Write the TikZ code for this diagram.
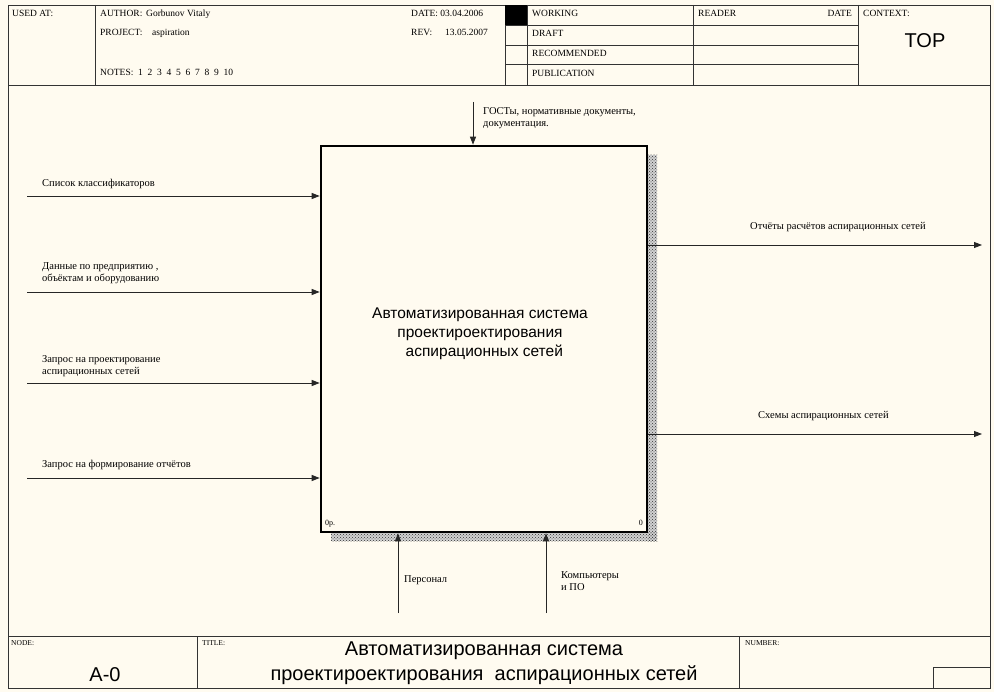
\documentclass[tikz,border=0pt]{standalone}
\usepackage{fontspec}
\setmainfont{Liberation Serif}
\newfontfamily\arialf{Liberation Sans}
\usetikzlibrary{arrows.meta,patterns}
\definecolor{bg}{RGB}{255,251,240}
\begin{document}
\begin{tikzpicture}[x=1pt,y=-1pt,
  lbl/.style={font=\fontsize{10.5}{12}\selectfont, anchor=west, inner sep=0},
  hdr/.style={font=\fontsize{9.5}{11}\selectfont, anchor=west, inner sep=0, text height=6.5pt, text depth=2pt},
  tiny/.style={font=\fontsize{7.5}{9}\selectfont, anchor=west, inner sep=0},
  big/.style={font=\arialf\fontsize{20}{25}\selectfont, inner sep=0, align=center},
  arr/.style={draw=black!85, line width=0.9pt, -{Triangle[length=8pt,width=6pt]}},
  frm/.style={draw=black!80, line width=0.8pt},
  shade/.style={pattern=crosshatch dots, pattern color=black!80}]
\useasboundingbox[fill=bg] (0,0) rectangle (994,692);
% outer frame
\draw[frm] (8,5) rectangle (990,688);
% header
\draw[frm] (8,85) -- (990,85);
\draw[frm] (95,5) -- (95,85);
\draw[frm] (505,5) -- (505,85);
\draw[frm] (527,5) -- (527,85);
\draw[frm] (693,5) -- (693,85);
\draw[frm] (858,5) -- (858,85);
\draw[frm] (505,25) -- (858,25);
\draw[frm] (505,45) -- (858,45);
\draw[frm] (505,64) -- (858,64);
\fill[black] (505,5) rectangle (527,25);
\node[hdr] (usedat) at (12,14) {USED AT:};
\node[hdr] (author) at (100,14) {AUTHOR:};
\node[hdr] (authorv) at (146,14) {Gorbunov Vitaly};
\node[hdr] (project) at (100,33) {PROJECT:};
\node[hdr] (projectv) at (152,33) {aspiration};
\node[hdr] (notes) at (100,73) {NOTES:\ \ 1\ \ 2\ \ 3\ \ 4\ \ 5\ \ 6\ \ 7\ \ 8\ \ 9\ \ 10};
\node[hdr] (date) at (411,14) {DATE: 03.04.2006};
\node[hdr] (rev) at (411,33) {REV:};
\node[hdr] (revv) at (445,33) {13.05.2007};
\node[hdr] (working) at (532,14) {WORKING};
\node[hdr] (draft) at (532,34) {DRAFT};
\node[hdr] (recom) at (532,54) {RECOMMENDED};
\node[hdr] (publ) at (532,74) {PUBLICATION};
\node[hdr] (reader) at (698,14) {READER};
\node[hdr, anchor=east] (rdate) at (852,14) {DATE};
\node[hdr] (context) at (863,14) {CONTEXT:};
\node[big] (top) at (925,41) {TOP};
% footer
\draw[frm] (8,636) -- (990,636);
\draw[frm] (197,636) -- (197,688);
\draw[frm] (739,636) -- (739,688);
\draw[frm] (933,667) rectangle (990,688);
\node[tiny] (nodel) at (11,643) {NODE:};
\node[tiny] (titlel) at (202,643) {TITLE:};
\node[tiny] (numl) at (745,643) {NUMBER:};
\node[big] (nodev) at (105,675) {A-0};
\node[big] (titlev) at (484,663) {Автоматизированная система\\проектироектирования\ \ аспирационных сетей};
% shadow
\fill[black!18] (648,155) rectangle (657,541);
\fill[black!18] (331,533) rectangle (657,541);
\fill[shade] (648,155) rectangle (657,541);
\fill[shade] (331,533) rectangle (657,541);
% main box
\node[draw, line width=2.6pt, minimum width=326pt, minimum height=386pt, inner sep=0] (box) at (484,339) {};
\node[font=\arialf\fontsize{15.5}{19}\selectfont, align=center, inner sep=0] (boxt) at (480,334) {Автоматизированная система\\проектироектирования\\\ \ аспирационных сетей};
\node[font=\fontsize{8}{9}\selectfont, anchor=west, inner sep=0] (nr) at (325,524) {0р.};
\node[font=\fontsize{8}{9}\selectfont, anchor=east, inner sep=0] (nz) at (643,523) {0};
% inputs
\coordinate (i1) at (27,196);
\coordinate (i2) at (27,292);
\coordinate (i3) at (27,383);
\coordinate (i4) at (27,478);
\draw[arr] (i1) -- (i1 -| box.west);
\draw[arr] (i2) -- (i2 -| box.west);
\draw[arr] (i3) -- (i3 -| box.west);
\draw[arr] (i4) -- (i4 -| box.west);
\node[lbl] (li1) at (42,184) {Список классификаторов};
\node[lbl, align=left, anchor=west] (li2) at (42,273) {Данные по предприятию ,\\объёктам и оборудованию};
\node[lbl, align=left, anchor=west] (li3) at (42,366) {Запрос на проектирование\\аспирационных сетей};
\node[lbl] (li4) at (42,465) {Запрос на формирование отчётов};
% outputs
\coordinate (o1) at (982,245);
\coordinate (o2) at (982,434);
\draw[arr] (o1 -| box.east) -- (o1);
\draw[arr] (o2 -| box.east) -- (o2);
\node[lbl] (lo1) at (750,227) {Отчёты расчётов аспирационных сетей};
\node[lbl] (lo2) at (758,416) {Схемы аспирационных сетей};
% control
\coordinate (c1) at (473,102);
\draw[arr] (c1) -- (c1 |- box.north);
\node[lbl, align=left, anchor=west] (lc1) at (483,118) {ГОСТы, нормативные документы,\\документация.};
% mechanisms
\coordinate (m1) at (398,613);
\coordinate (m2) at (546,613);
\draw[arr] (m1) -- (m1 |- box.south);
\draw[arr] (m2) -- (m2 |- box.south);
\node[lbl] (lm1) at (404,580) {Персонал};
\node[lbl, align=left, anchor=west] (lm2) at (561,581) {Компьютеры\\и ПО};
\end{tikzpicture}
\end{document}
